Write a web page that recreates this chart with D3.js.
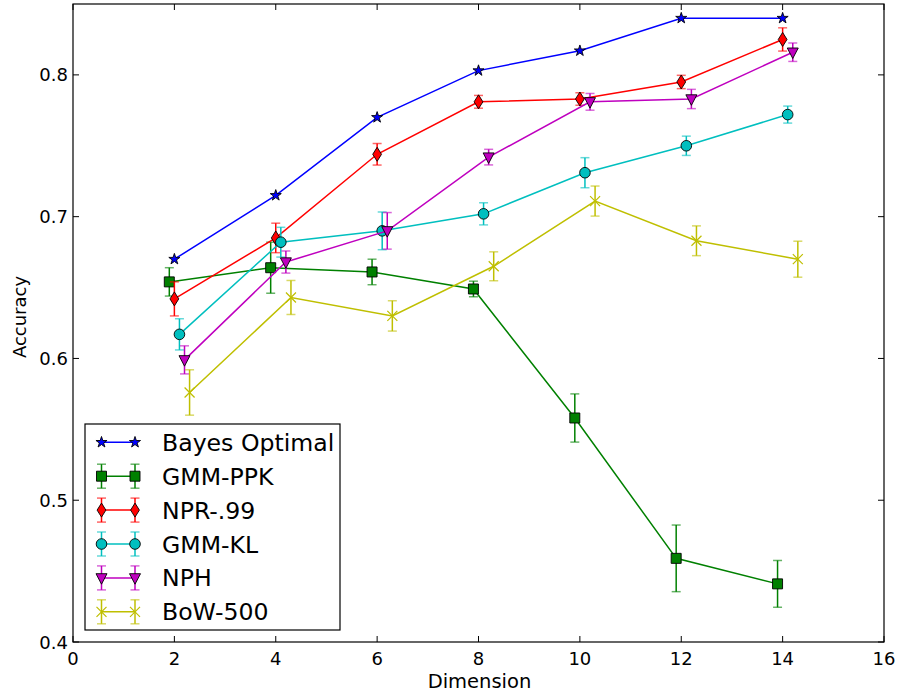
<!DOCTYPE html>
<html>
<head>
<meta charset="utf-8">
<script src="https://cdn.jsdelivr.net/npm/d3@7"></script>
<style>
  html, body { margin: 0; padding: 0; background: #fff; }
  svg { display: block; font-family: "DejaVu Sans", sans-serif; }
</style>
</head>
<body>
<svg id="chart" width="899" height="692"></svg>
<script>
// ---------------- data ----------------
const seriesNames = ["Bayes Optimal", "GMM-PPK", "NPR-.99", "GMM-KL", "NPH", "BoW-500"];
const seriesColors = ["#0000ff", "#008000", "#ff0000", "#00bfbf", "#bf00bf", "#bfbf00"];
const seriesMarkers = ["star", "square", "thinDiamond", "circle", "triangleDown", "x"];

const xBayes = [2, 4, 6, 8, 10, 12, 14];
const yBayes = [0.670, 0.715, 0.770, 0.803, 0.817, 0.840, 0.840];

const xPPK = [1.9, 3.9, 5.9, 7.9, 9.9, 11.9, 13.9];
const yPPK = [0.654, 0.664, 0.661, 0.649, 0.558, 0.459, 0.441];
const ePPK = [0.010, 0.018, 0.009, 0.0055, 0.017, 0.0235, 0.0165];

const xNPR = [2, 4, 6, 8, 10, 12, 14];
const yNPR = [0.642, 0.685, 0.744, 0.781, 0.783, 0.795, 0.825];
const eNPR = [0.012, 0.0104, 0.0076, 0.0045, 0.0044, 0.0047, 0.0082];

const xKL = [2.1, 4.1, 6.1, 8.1, 10.1, 12.1, 14.1];
const yKL = [0.617, 0.682, 0.690, 0.702, 0.731, 0.750, 0.772];
const eKL = [0.011, 0.0105, 0.0133, 0.0078, 0.0106, 0.0068, 0.006];

const xNPH = [2.2, 4.2, 6.2, 8.2, 10.2, 12.2, 14.2];
const yNPH = [0.599, 0.668, 0.690, 0.742, 0.781, 0.783, 0.816];
const eNPH = [0.0099, 0.0078, 0.0129, 0.0055, 0.0059, 0.0068, 0.0065];

const xBoW = [2.3, 4.3, 6.3, 8.3, 10.3, 12.3, 14.3];
const yBoW = [0.576, 0.643, 0.630, 0.665, 0.711, 0.683, 0.670];
const eBoW = [0.016, 0.012, 0.0107, 0.0102, 0.0106, 0.0105, 0.0127];

const xTicks = [0, 2, 4, 6, 8, 10, 12, 14, 16];
const yTicks = [0.4, 0.5, 0.6, 0.7, 0.8];
const xLabel = "Dimension";
const yLabel = "Accuracy";

const seriesX = [xBayes, xPPK, xNPR, xKL, xNPH, xBoW];
const seriesY = [yBayes, yPPK, yNPR, yKL, yNPH, yBoW];
const seriesE = [null, ePPK, eNPR, eKL, eNPH, eBoW];

// ---------------- layout ----------------
const svg = d3.select("#chart");
const pLeft = 73, pRight = 884, pTop = 4, pBottom = 642;

const x = d3.scaleLinear().domain([0, 16]).range([pLeft, pRight]);
const y = d3.scaleLinear().domain([0.4, 0.85]).range([pBottom, pTop]);

const g = svg.append("g");

// marker paths
function markerPath(type) {
  switch (type) {
    case "star": return d3.symbol().type(d3.symbolStar).size(38)();
    case "square": return "M-5,-5H5V5H-5Z";
    case "thinDiamond": return "M0,-7L4.4,0L0,7L-4.4,0Z";
    case "circle": return d3.symbol().type(d3.symbolCircle).size(Math.PI * 5.3 * 5.3)();
    case "triangleDown": return "M-5.5,-4.2L5.5,-4.2L0,6.3Z";
    case "x": return "M-5,-5L5,5M-5,5L5,-5";
  }
}

function drawMarker(sel, type, color) {
  if (type === "x") {
    sel.append("path").attr("d", markerPath(type))
      .attr("fill", "none").attr("stroke", color).attr("stroke-width", 1.2);
  } else {
    sel.append("path").attr("d", markerPath(type))
      .attr("fill", color).attr("stroke", "#000").attr("stroke-width", 0.9);
  }
}

const capHalf = 4.5;

// ---------------- series ----------------
seriesNames.forEach((name, i) => {
  const xs = seriesX[i], ys = seriesY[i], es = seriesE[i];
  const color = seriesColors[i];
  const pts = xs.map((xv, j) => ({ x: xv, y: ys[j], e: es ? es[j] : null }));
  const sg = g.append("g");

  // error bars
  if (es) {
    const eb = sg.append("g").attr("stroke", color).attr("stroke-width", 1.5).attr("fill", "none");
    pts.forEach(p => {
      eb.append("line").attr("x1", x(p.x)).attr("x2", x(p.x))
        .attr("y1", y(p.y - p.e)).attr("y2", y(p.y + p.e));
      [p.y - p.e, p.y + p.e].forEach(v => {
        eb.append("line").attr("x1", x(p.x) - capHalf).attr("x2", x(p.x) + capHalf)
          .attr("y1", y(v)).attr("y2", y(v)).attr("stroke-opacity", 0.6);
      });
    });
  }

  // line
  sg.append("path").datum(pts)
    .attr("d", d3.line().x(d => x(d.x)).y(d => y(d.y)))
    .attr("fill", "none").attr("stroke", color).attr("stroke-width", 1.5);

  // markers
  pts.forEach(p => {
    const m = sg.append("g").attr("transform", `translate(${x(p.x)},${y(p.y)})`);
    drawMarker(m, seriesMarkers[i], color);
  });
});

// ---------------- axes ----------------
const tickLen = 6;
const axG = svg.append("g");
axG.append("rect").attr("x", pLeft).attr("y", pTop).attr("width", pRight - pLeft).attr("height", pBottom - pTop)
  .attr("fill", "none").attr("stroke", "#000").attr("stroke-width", 1.2);

xTicks.forEach(t => {
  axG.append("line").attr("x1", x(t)).attr("x2", x(t)).attr("y1", pBottom).attr("y2", pBottom - tickLen)
    .attr("stroke", "#000").attr("stroke-width", 1);
  axG.append("line").attr("x1", x(t)).attr("x2", x(t)).attr("y1", pTop).attr("y2", pTop + tickLen)
    .attr("stroke", "#000").attr("stroke-width", 1);
  axG.append("text").attr("x", x(t)).attr("y", pBottom + 23)
    .attr("text-anchor", "middle").attr("font-size", 18).attr("fill", "#000").text(d3.format("d")(t));
});
yTicks.forEach(t => {
  axG.append("line").attr("x1", pLeft).attr("x2", pLeft + tickLen).attr("y1", y(t)).attr("y2", y(t))
    .attr("stroke", "#000").attr("stroke-width", 1);
  axG.append("line").attr("x1", pRight).attr("x2", pRight - tickLen).attr("y1", y(t)).attr("y2", y(t))
    .attr("stroke", "#000").attr("stroke-width", 1);
  axG.append("text").attr("x", pLeft - 5).attr("y", y(t) + 6.5)
    .attr("text-anchor", "end").attr("font-size", 18).attr("fill", "#000").text(d3.format(".1f")(t));
});

axG.append("text").attr("x", (pLeft + pRight) / 2 + 1).attr("y", 688)
  .attr("text-anchor", "middle").attr("font-size", 19.5).attr("fill", "#000").text(xLabel);
axG.append("text").attr("transform", `translate(26,317) rotate(-90)`)
  .attr("text-anchor", "middle").attr("font-size", 18).attr("fill", "#000").text(yLabel);

// ---------------- legend ----------------
const lg = svg.append("g");
lg.append("rect").attr("x", 85).attr("y", 424).attr("width", 255).attr("height", 206)
  .attr("fill", "#fff").attr("stroke", "#000").attr("stroke-width", 1.2);
const rowY0 = 442.3, rowStep = 33.9;
seriesNames.forEach((name, i) => {
  const ry = rowY0 + i * rowStep;
  const color = seriesColors[i];
  const xa = 101.5, xb = 135;
  const row = lg.append("g");
  if (seriesE[i]) {
    const eh = 12;
    [xa, xb].forEach(xx => {
      row.append("line").attr("x1", xx).attr("x2", xx).attr("y1", ry - eh).attr("y2", ry + eh)
        .attr("stroke", color).attr("stroke-width", 1.5);
      [ry - eh, ry + eh].forEach(yy => {
        row.append("line").attr("x1", xx - capHalf).attr("x2", xx + capHalf).attr("y1", yy).attr("y2", yy)
          .attr("stroke", color).attr("stroke-width", 1.5).attr("stroke-opacity", 0.6);
      });
    });
  }
  row.append("line").attr("x1", xa).attr("x2", xb).attr("y1", ry).attr("y2", ry)
    .attr("stroke", color).attr("stroke-width", 1.5);
  [xa, xb].forEach(xx => {
    const m = row.append("g").attr("transform", `translate(${xx},${ry})`);
    drawMarker(m, seriesMarkers[i], color);
  });
  row.append("text").attr("x", 162).attr("y", ry + 8.5).attr("font-size", 23.6).attr("fill", "#000").text(name);
});
</script>
</body>
</html>
